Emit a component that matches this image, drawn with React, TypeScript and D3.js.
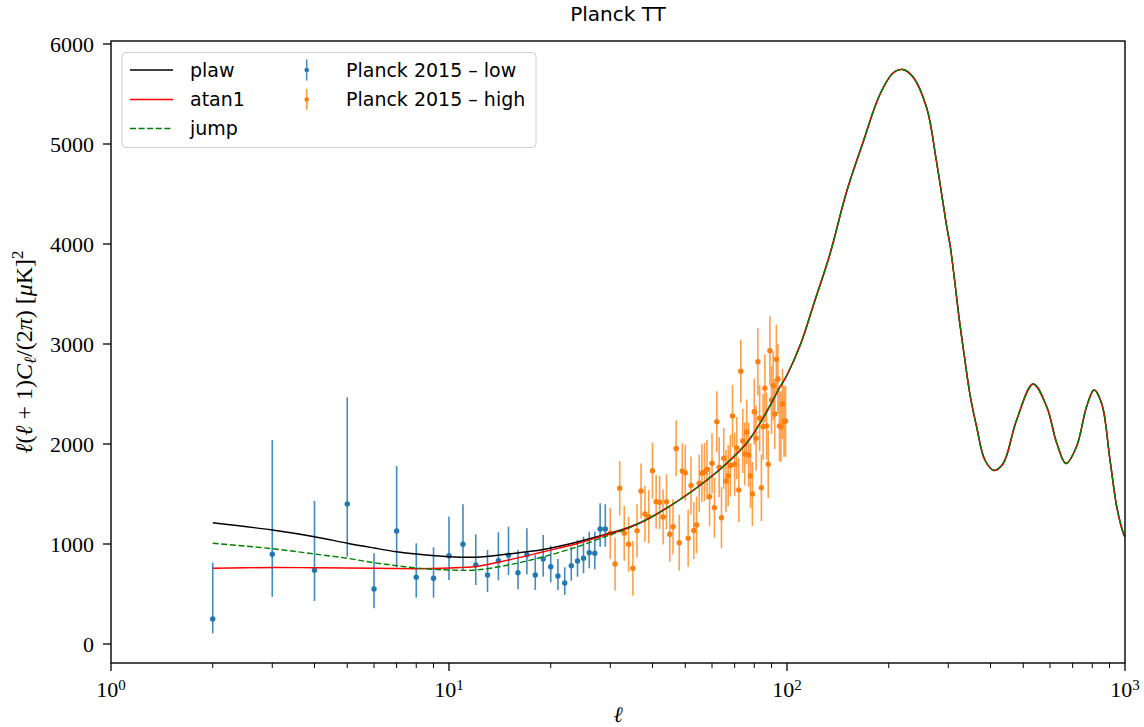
import React from 'react';
import * as d3 from 'd3';

// ---------- data ----------
const xMajorTicks = [1, 10, 100, 1000];
const xMajorExponents = ['0', '1', '2', '3'];
const yTicks = [0, 1000, 2000, 3000, 4000, 5000, 6000];
const yTickLabels = ['0', '1000', '2000', '3000', '4000', '5000', '6000'];

// theory curves: low-ell part differs per model
const ellTheoryLow = [2, 3, 4, 5, 6, 7, 8, 10, 12, 15, 19, 24, 29, 33];
const plawLow = [1213, 1140, 1073, 1007, 960, 923, 900, 873, 868, 900, 945, 1020, 1095, 1150];
const atan1Low = [757, 765, 762, 760, 757, 755, 753, 760, 775, 840, 922, 1005, 1090, 1145];
const jumpLow = [1007, 953, 900, 857, 813, 783, 760, 740, 740, 790, 872, 972, 1075, 1140];
// shared high-ell part (all three models coincide)
const ellTheoryHigh = [38, 48, 58, 66, 76, 85, 95, 100, 110, 120, 134, 150, 168, 188, 206, 220, 236, 259, 277, 297, 304, 325, 336, 348, 364, 385, 410, 436, 478, 535, 587, 628, 669, 719, 770, 810, 853, 903, 945, 988, 1000];
const clTheoryHigh = [1235, 1440, 1640, 1800, 2010, 2260, 2560, 2690, 3010, 3400, 3900, 4520, 5020, 5490, 5710, 5745, 5670, 5360, 4820, 4170, 3980, 3190, 2840, 2490, 2170, 1840, 1735, 1805, 2240, 2600, 2370, 2010, 1805, 1975, 2375, 2540, 2405, 1840, 1375, 1110, 1070];

// Planck 2015 low-ell
const ellLow = [2, 3, 4, 5, 6, 7, 8, 9, 10, 11, 12, 13, 14, 15, 16, 17, 18, 19, 20, 21, 22, 23, 24, 25, 26, 27, 28, 29];
const clLow = [250, 897, 737, 1400, 550, 1130, 667, 657, 883, 997, 790, 690, 833, 887, 713, 893, 690, 850, 773, 680, 610, 783, 830, 857, 913, 907, 1150, 1150];
const clLowTop = [813, 2040, 1430, 2467, 907, 1780, 1007, 967, 1273, 1397, 1097, 940, 1117, 1173, 940, 1157, 890, 1090, 983, 850, 767, 973, 1040, 1073, 1123, 1123, 1407, 1397];
const clLowBottom = [107, 473, 430, 873, 357, 767, 463, 463, 640, 740, 590, 520, 637, 690, 547, 697, 540, 673, 617, 540, 490, 633, 673, 707, 757, 747, 973, 973];

// Planck 2015 high-ell (ell = 30..99)
const ellHigh = [30, 31, 32, 33, 34, 35, 36, 37, 38, 39, 40, 41, 42, 43, 44, 45, 46, 47, 48, 49, 50, 51, 52, 53, 54, 55, 56, 57, 58, 59, 60, 61, 62, 63, 64, 65, 66, 67, 68, 69, 70, 71, 72, 73, 74, 75, 76, 77, 78, 79, 80, 81, 82, 83, 84, 85, 86, 87, 88, 89, 90, 91, 92, 93, 94, 95, 96, 97, 98, 99];
const clHigh = [1107, 800, 1557, 1107, 997, 757, 1133, 1530, 1300, 1273, 1733, 1423, 1417, 1270, 1423, 1097, 1173, 1955, 1013, 1730, 1713, 1057, 1585, 1135, 1190, 1607,
  1707, 1720, 1745, 1473, 1807, 1363, 2223, 1767, 1263, 1857, 1630, 1683, 1783, 2280, 1797, 1960, 1540, 2727, 2030, 1900, 2120, 1890, 1683, 1500,
  2323, 2057, 2823, 2257, 1563, 2173, 2557, 2180, 1797, 2933, 2440, 2583, 2300, 2847, 2650, 2180, 2173, 2400, 2223, 2230];
const errHigh = [255, 265, 272, 275, 275, 272, 268, 275, 280, 267, 280, 270, 265, 275, 275, 275, 275, 280, 280, 275,
  280, 285, 290, 285, 285, 285, 290, 290, 295, 295, 300, 300, 305, 300, 305, 305, 310, 305, 310, 310,
  315, 310, 320, 315, 320, 315, 325, 320, 325, 320, 330, 325, 335, 330, 335, 330, 340, 335, 340, 345,
  340, 345, 350, 345, 350, 350, 355, 350, 355, 355];

const legendLines = [
  { label: 'plaw', color: '#000000', dash: null },
  { label: 'atan1', color: '#ff0000', dash: null },
  { label: 'jump', color: '#008000', dash: '6,2.6' },
];
const legendPoints = [
  { label: 'Planck 2015 \u2013 low', color: '#1f77b4' },
  { label: 'Planck 2015 \u2013 high', color: '#ff7f0e' },
];

// ---------- layout ----------
const W = 1144, H = 727;
const L = 111, R = 1125, T = 41, B = 663;
const SERIF = '"Liberation Serif", "DejaVu Serif", serif';
const SANS = '"DejaVu Sans", sans-serif';

export default function App() {
  const x = d3.scaleLog().domain([1, 1000]).range([L, R]);
  const y = d3.scaleLinear().domain([-190, 6030]).range([B, T]);

  const line = d3.line<[number, number]>()
    .x(d => x(d[0]))
    .y(d => y(d[1]))
    .curve(d3.curveCatmullRom.alpha(0.5));

  const shared: [number, number][] = ellTheoryHigh.map((e, i) => [e, clTheoryHigh[i]]);
  const mk = (vals: number[]) => [
    ...ellTheoryLow.map((e, i) => [e, vals[i]] as [number, number]),
    ...shared,
  ];
  const models = [
    { d: line(mk(plawLow)), color: '#000000', dash: undefined },
    { d: line(mk(atan1Low)), color: '#ff0000', dash: undefined },
    { d: line(mk(jumpLow)), color: '#008000', dash: '6,2.6' },
  ];

  const minorTicks: number[] = [];
  for (const dec of [1, 10, 100]) for (let k = 2; k <= 9; k++) minorTicks.push(dec * k);

  const rowY = [70, 99.5, 128.5];

  return (
    <svg width={W} height={H} style={{ position: 'absolute', left: 0, top: 0, background: '#fff' }}>
      <defs>
        <clipPath id="plot"><rect x={L} y={T} width={R - L} height={B - T} /></clipPath>
      </defs>
      <rect x={0} y={0} width={W} height={H} fill="#fff" />

      {/* title */}
      <text x={(L + R) / 2} y={21} textAnchor="middle" fontFamily={SANS} fontSize={20}>Planck TT</text>

      <g clipPath="url(#plot)">
        {ellLow.map((e, i) => (
          <g key={'lo' + e}>
            <line x1={x(e)} x2={x(e)} y1={y(clLowTop[i])} y2={y(clLowBottom[i])} stroke="#1f77b4" strokeWidth={1.6} strokeOpacity={0.85} />
            <circle cx={x(e)} cy={y(clLow[i])} r={2.7} fill="#1f77b4" />
          </g>
        ))}
        {ellHigh.map((e, i) => (
          <g key={'hi' + e}>
            <line x1={x(e)} x2={x(e)} y1={y(clHigh[i] + errHigh[i])} y2={y(clHigh[i] - errHigh[i])} stroke="#ff7f0e" strokeWidth={1.6} strokeOpacity={0.75} />
            <circle cx={x(e)} cy={y(clHigh[i])} r={2.7} fill="#ff7f0e" />
          </g>
        ))}
        {models.map((m, i) => (
          <path key={i} d={m.d || ''} fill="none" stroke={m.color} strokeWidth={1.4} strokeDasharray={m.dash} />
        ))}
      </g>

      {/* frame */}
      <rect x={L} y={T} width={R - L} height={B - T} fill="none" stroke="#000" strokeWidth={1.4} />

      {/* y ticks */}
      {yTicks.map((t, i) => (
        <g key={'yt' + t}>
          <line x1={L - 8} x2={L} y1={y(t)} y2={y(t)} stroke="#000" strokeWidth={1.3} />
          <text x={94} y={y(t) + 7.5} textAnchor="end" fontFamily={SERIF} fontSize={22}>{yTickLabels[i]}</text>
        </g>
      ))}

      {/* x ticks */}
      {minorTicks.map(t => (
        <line key={'xm' + t} x1={x(t)} x2={x(t)} y1={B} y2={B + 5} stroke="#000" strokeWidth={1} />
      ))}
      {xMajorTicks.map((t, i) => (
        <g key={'xt' + t}>
          <line x1={x(t)} x2={x(t)} y1={B} y2={B + 8} stroke="#000" strokeWidth={1.3} />
          <text x={x(t)} y={697} textAnchor="middle" fontFamily={SERIF} fontSize={22}>
            10<tspan dy={-7} fontSize={15}>{xMajorExponents[i]}</tspan>
          </text>
        </g>
      ))}

      {/* axis labels */}
      <text x={(L + R) / 2} y={722} textAnchor="middle" fontFamily={SERIF} fontSize={22} fontStyle="italic">ℓ</text>
      <text transform={`translate(32, ${(T + B) / 2}) rotate(-90)`} textAnchor="middle" fontFamily={SERIF} fontSize={24} xmlSpace="preserve">
        <tspan fontStyle="italic">ℓ</tspan>(<tspan fontStyle="italic">ℓ</tspan> + 1)<tspan fontStyle="italic">C</tspan><tspan fontStyle="italic" fontSize={17} dy={4}>ℓ</tspan><tspan dy={-4}>/(2</tspan><tspan fontStyle="italic">π</tspan>) [<tspan fontStyle="italic">μ</tspan>K]<tspan fontSize={17} dy={-9}>2</tspan>
      </text>

      {/* legend */}
      <rect x={122} y={52.5} width={414} height={95} rx={4} fill="#fff" fillOpacity={0.8} stroke="#cccccc" strokeWidth={1} />
      {legendLines.map((l, i) => (
        <g key={'ll' + i}>
          <line x1={130} x2={173} y1={rowY[i]} y2={rowY[i]} stroke={l.color} strokeWidth={1.4} strokeDasharray={l.dash || undefined} />
          <text x={190} y={rowY[i] + 6.5} fontFamily={SANS} fontSize={19}>{l.label}</text>
        </g>
      ))}
      {legendPoints.map((p, i) => (
        <g key={'lp' + i}>
          <line x1={306.7} x2={306.7} y1={rowY[i] - 10.5} y2={rowY[i] + 10.5} stroke={p.color} strokeWidth={1.6} strokeOpacity={0.8} />
          <circle cx={306.7} cy={rowY[i]} r={2.3} fill={p.color} />
          <text x={346} y={rowY[i] + 6.5} fontFamily={SANS} fontSize={19}>{p.label}</text>
        </g>
      ))}
    </svg>
  );
}
